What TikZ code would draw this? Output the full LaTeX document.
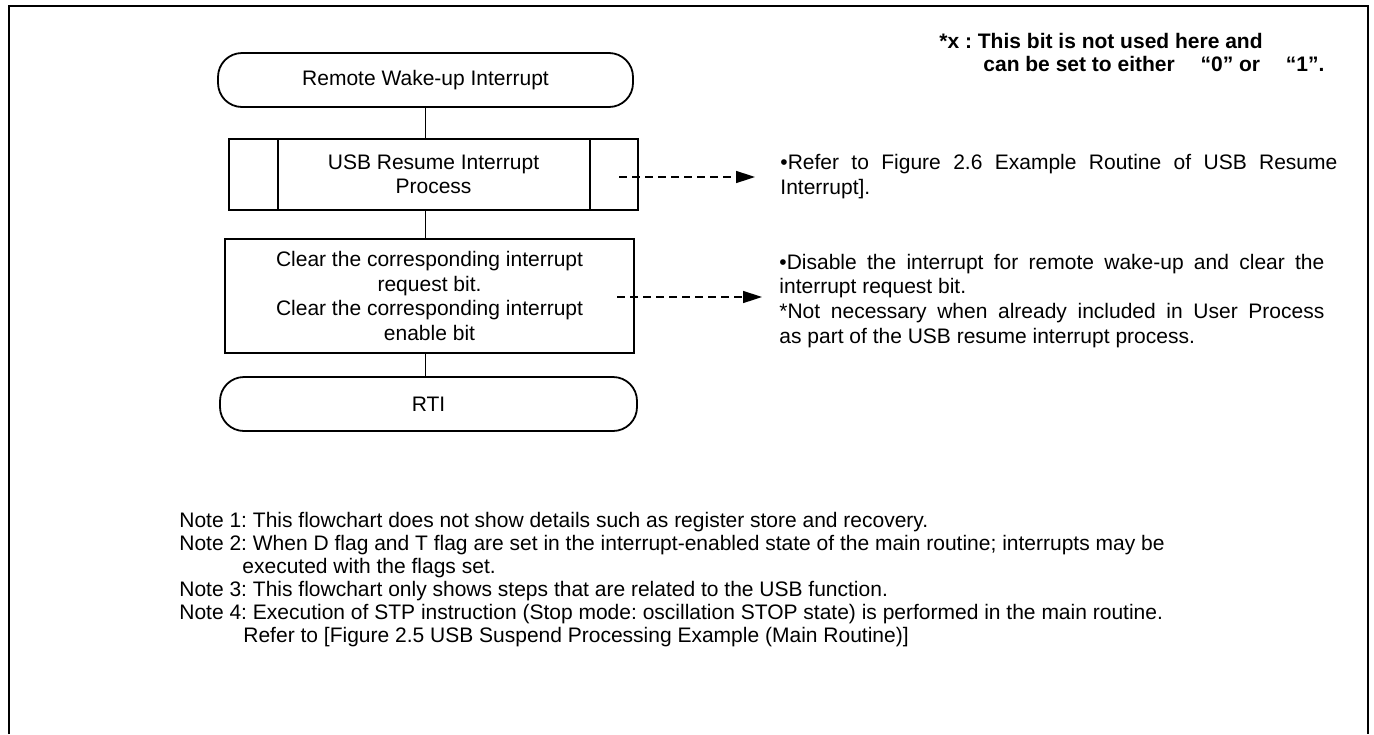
\documentclass[tikz,border=0pt]{standalone}
\usepackage{fontspec}
\setmainfont{Liberation Sans}
\usetikzlibrary{arrows.meta}
\frenchspacing
\begin{document}
\begin{tikzpicture}[x=0.5pt,y=-0.5pt,
  every node/.style={font=\fontsize{10.5pt}{12.2pt}\selectfont\frenchspacing},
  term/.style={draw,line width=0.9pt,rounded corners=12pt,minimum height=27pt,inner sep=0pt,align=center},
  procbox/.style={draw,line width=0.9pt,minimum width=204.5pt,inner sep=0pt,align=center},
  conn/.style={line width=0.75pt},
  note/.style={dashed,line width=0.75pt,dash pattern=on 4pt off 2.5pt,-{Triangle[length=9.5pt,width=6pt]}},
  txt/.style={anchor=base west,inner sep=0pt},
  btxt/.style={anchor=base west,inner sep=0pt,font=\fontsize{10.5pt}{12.2pt}\selectfont\bfseries\frenchspacing}]
\useasboundingbox (0,0) rectangle (1374,734);
% frame
\draw[line width=1.2pt] (9,734) -- (9,6) -- (1368,6) -- (1368,734);

% flowchart
\node[term,minimum width=207.5pt] (start) at (425.5,80) {Remote Wake-up Interrupt};
\node[procbox,minimum height=35.5pt] (sub) at (433.5,174.5) {USB Resume Interrupt\\Process};
\draw[line width=0.9pt] ([xshift=25pt]sub.north west) -- ([xshift=25pt]sub.south west);
\draw[line width=0.9pt] ([xshift=-24.5pt]sub.north east) -- ([xshift=-24.5pt]sub.south east);
\node[procbox,minimum height=57pt] (proc) at (429.5,296) {Clear the corresponding interrupt\\request bit.\\Clear the corresponding interrupt\\enable bit};
\node[term,minimum width=208.5pt] (rti) at (428.5,404) {RTI};

\draw[conn] (start.south) -- (start.south |- sub.north);
\draw[conn] (start.south |- sub.south) -- (start.south |- proc.north);
\draw[conn] (start.south |- proc.south) -- (start.south |- rti.north);

% dashed arrows
\coordinate (a1s) at (619,177);
\coordinate (a1e) at (755,177);
\coordinate (a2s) at (617,297);
\coordinate (a2e) at (762,297);
\draw[note] (a1s) -- (a1e);
\draw[note] (a2s) -- (a2e);

% comment texts
\node[txt] (c1a) at (780,169) {\makebox[278.5pt][s]{•Refer to Figure 2.6 Example Routine of USB Resume}};
\node[txt] (c1b) at (780,194) {Interrupt].};
\node[txt] (c2a) at (779,269) {\makebox[272.5pt][s]{•Disable the interrupt for remote wake-up and clear the}};
\node[txt] (c2b) at (779,293) {interrupt request bit.};
\node[txt] (c2c) at (779,318) {\makebox[272.5pt][s]{*Not necessary when already included in User Process}};
\node[txt] (c2d) at (779,343) {as part of the USB resume interrupt process.};

% bold note
\node[btxt] (x1) at (939,48) {*x : This bit is not used here and};
\node[btxt] (x2) at (983,71) {can be set to either \hspace{10pt}“0” or \hspace{10pt}“1”.};

% notes
\node[txt] (n1) at (179,527) {Note 1: This flowchart does not show details such as register store and recovery.};
\node[txt] (n2) at (179,550) {Note 2: When D flag and T flag are set in the interrupt-enabled state of the main routine; interrupts may be};
\node[txt] (n2b) at (242,573) {executed with the flags set.};
\node[txt] (n3) at (179,596) {Note 3: This flowchart only shows steps that are related to the USB function.};
\node[txt] (n4) at (179,619) {Note 4: Execution of STP instruction (Stop mode: oscillation STOP state) is performed in the main routine.};
\node[txt] (n4b) at (243,642) {Refer to [Figure 2.5 USB Suspend Processing Example (Main Routine)]};
\end{tikzpicture}
\end{document}
